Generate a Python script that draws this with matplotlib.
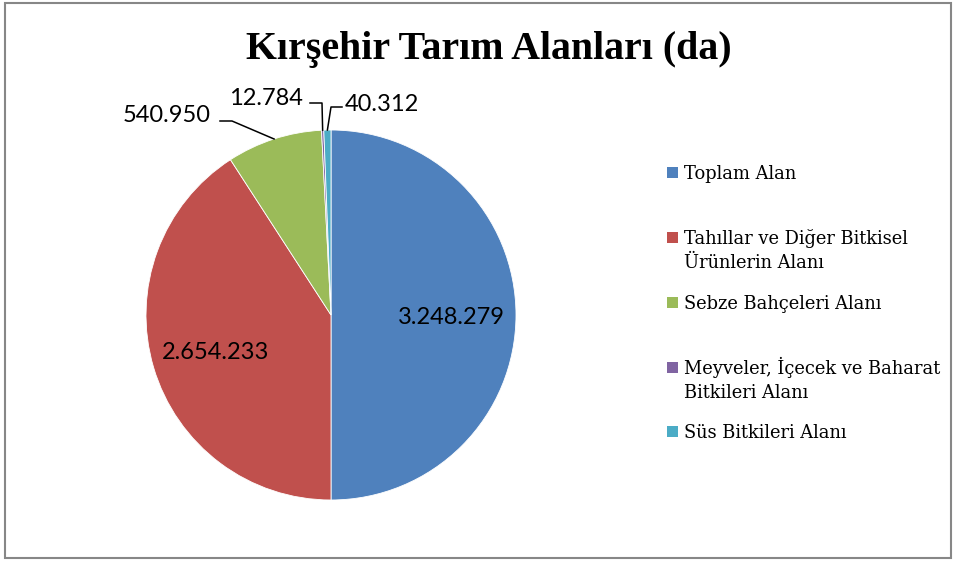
import numpy as np
import matplotlib.pyplot as plt
from matplotlib.patches import Rectangle

# Kırşehir tarım alanları (dekar)
categories = ['Toplam Alan',
              'Tahıllar ve Diğer Bitkisel\nÜrünlerin Alanı',
              'Sebze Bahçeleri Alanı',
              'Meyveler, İçecek ve Baharat\nBitkileri Alanı',
              'Süs Bitkileri Alanı']
values = [3248279, 2654233, 540950, 12784, 40312]
value_labels = ['3.248.279', '2.654.233', '540.950', '12.784', '40.312']
colors = ['#4F81BD', '#C0504D', '#9BBB59', '#8064A2', '#4BACC6']

W, H = 955, 562
CX, CY, R = 331, 315, 185   # pie centre / radius in pixels


def px2d(px, py):
    return (px - CX) / R, (CY - py) / R


fig = plt.figure(figsize=(W / 100, H / 100), dpi=100)
ax = fig.add_axes([0, 0, 1, 1])

wedges, _ = ax.pie(values, colors=colors, startangle=90, counterclock=False,
                   radius=1, wedgeprops=dict(edgecolor='white', linewidth=0.6))
ax.set_xlim(-CX / R, (W - CX) / R)
ax.set_ylim(-(H - CY) / R, CY / R)
ax.set_aspect('auto')
ax.axis('off')

mids = [np.deg2rad((w.theta1 + w.theta2) / 2) for w in wedges]
lab_font = dict(family='Lato', fontsize=17, color='black')

# inside labels
for i in (0, 1):
    r = 0.65
    ax.annotate(value_labels[i], (r * np.cos(mids[i]), r * np.sin(mids[i])),
                xytext=(0, -3), textcoords='offset pixels',
                ha='center', va='center', **lab_font)

# outside labels with leader lines: (text x, baseline y, ha, knee x, knee y, line end x)
outside = {
    2: (211, 122, 'right', 232, 121, 220),
    3: (303, 105, 'right', 322, 103, 310),
    4: (345, 111, 'left', 331, 107, 342),
}
for i, (tx, ty, ha, kx, ky, ex) in outside.items():
    ax.text(*px2d(tx, ty), value_labels[i], ha=ha, va='baseline', **lab_font)
    x0, y0 = np.cos(mids[i]), np.sin(mids[i])
    k = px2d(kx, ky)
    e = px2d(ex, ky)
    ax.plot([x0, k[0], e[0]], [y0, k[1], e[1]], color='black', lw=1.1)

# title
fig.text(489 / W, 1 - 59 / H, 'Kırşehir Tarım Alanları (da)', ha='center', va='baseline',
         family='Liberation Serif', fontweight='bold', fontsize=28.7)

# legend (baseline of first line for each entry)
leg_base = [179, 244, 309, 374, 438]
line_gap = 24
for cat, col, yb in zip(categories, colors, leg_base):
    fig.patches.append(Rectangle((667 / W, 1 - (yb - 1) / H), 11 / W, 11 / H,
                                 transform=fig.transFigure, facecolor=col,
                                 edgecolor='none'))
    for j, line in enumerate(cat.split('\n')):
        fig.text(684 / W, 1 - (yb + j * line_gap) / H, line, ha='left', va='baseline',
                 family='DejaVu Serif', fontsize=12.9)

# outer frame
fig.patches.append(Rectangle((5 / W, 1 - 558 / H), 946 / W, 555 / H,
                             transform=fig.transFigure, facecolor='none',
                             edgecolor='#878787', linewidth=1.5))

plt.savefig('out.png', dpi=100)
plt.close()
